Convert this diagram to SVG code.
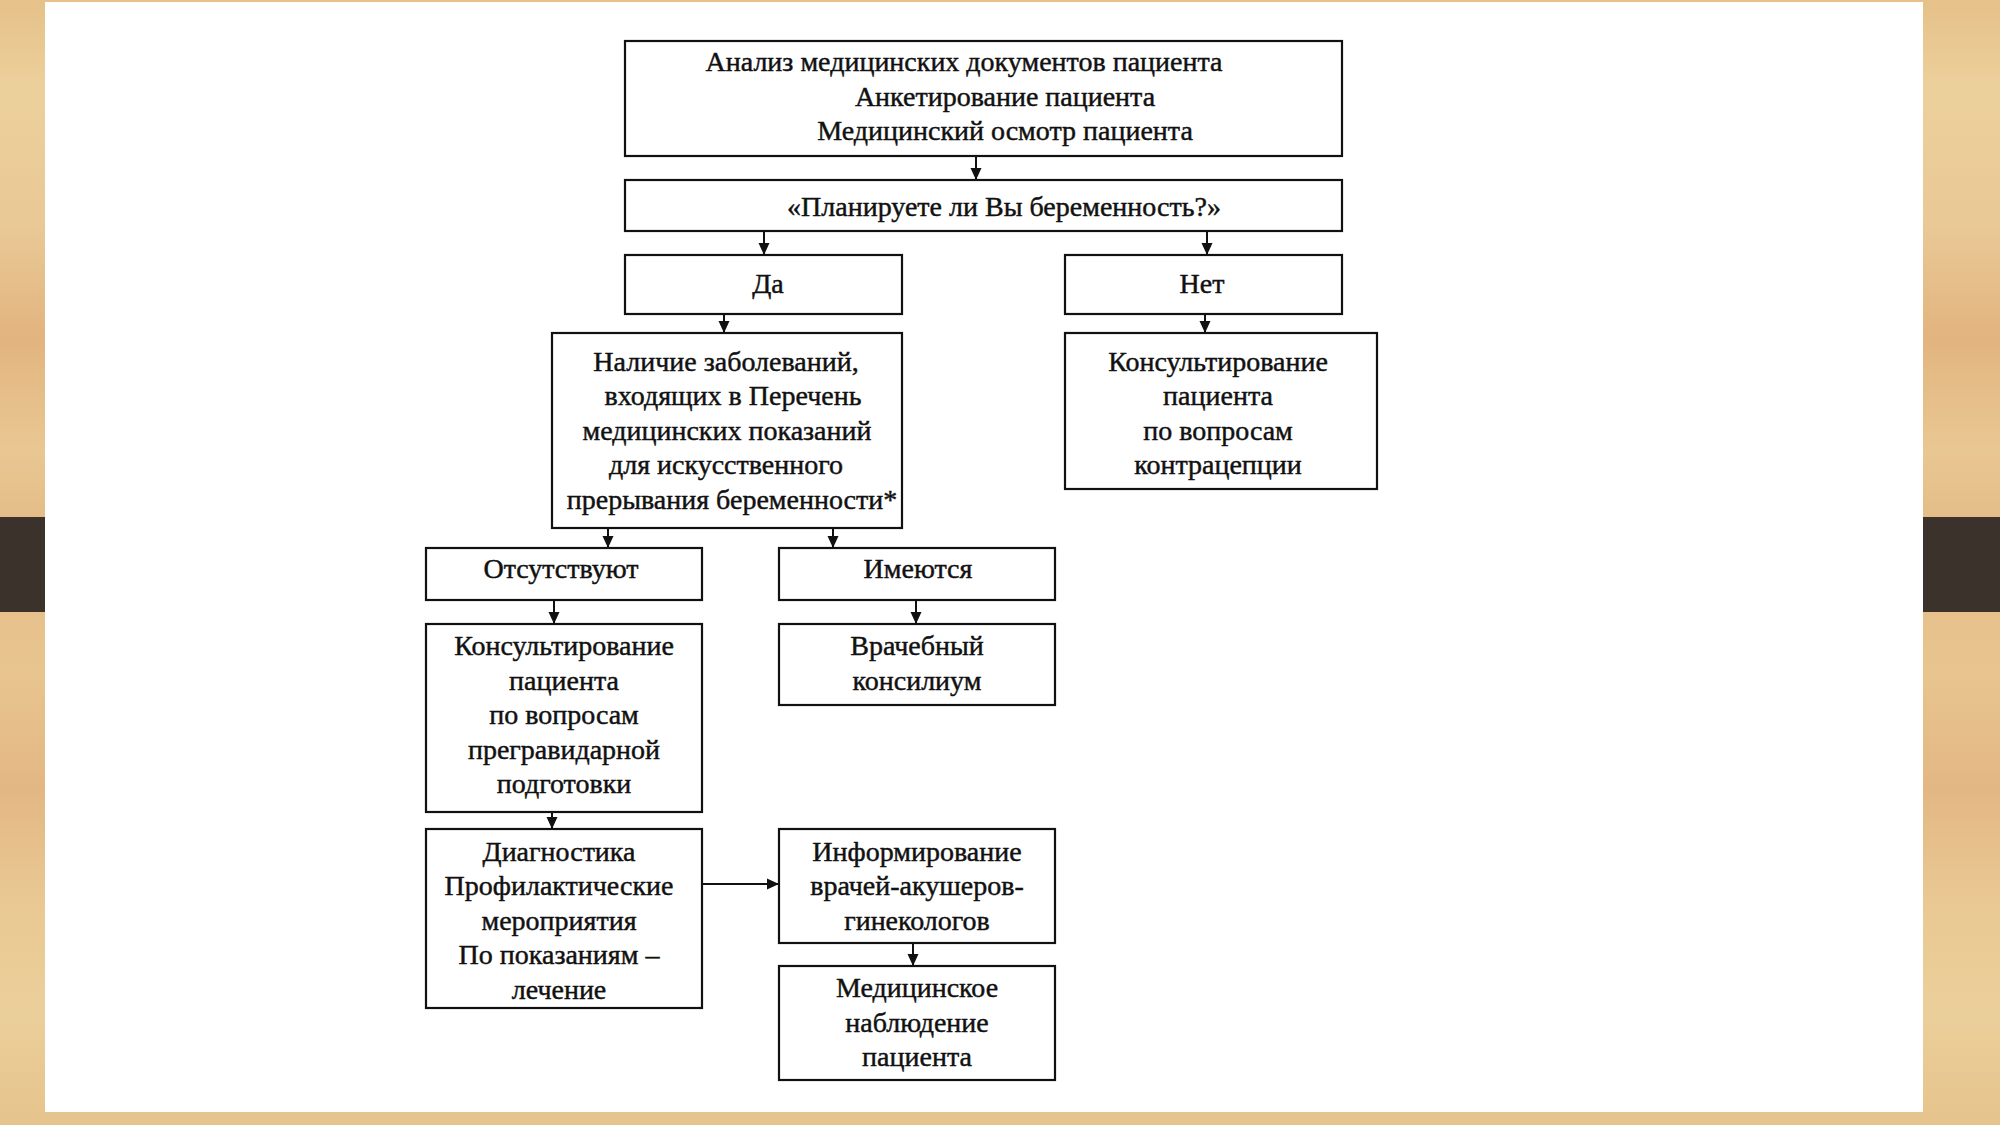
<svg xmlns="http://www.w3.org/2000/svg" width="2000" height="1125" viewBox="0 0 2000 1125">
  <defs>
    <linearGradient id="wood" x1="0" y1="0" x2="0" y2="1">
      <stop offset="0" stop-color="#e6c189"/>
      <stop offset="0.08" stop-color="#ecd09c"/>
      <stop offset="0.2" stop-color="#e9c996"/>
      <stop offset="0.3" stop-color="#e2b47f"/>
      <stop offset="0.4" stop-color="#e9c792"/>
      <stop offset="0.46" stop-color="#e4bd88"/>
      <stop offset="0.6" stop-color="#e8c48e"/>
      <stop offset="0.7" stop-color="#e3b783"/>
      <stop offset="0.8" stop-color="#e9c893"/>
      <stop offset="0.9" stop-color="#ebcf9a"/>
      <stop offset="1" stop-color="#e6c38c"/>
    </linearGradient>
    <marker id="arr" viewBox="0 0 12 12" refX="12" refY="6" markerWidth="12" markerHeight="12" markerUnits="userSpaceOnUse" orient="auto">
      <path d="M0,0.5 L12,6 L0,11.5 z" fill="#111"/>
    </marker>
    <style>
      .box{fill:#fff;stroke:#111;stroke-width:2.2}
      .t{font-family:"Liberation Serif","Times New Roman",serif;font-size:28px;fill:#111;text-anchor:middle;stroke:#111;stroke-width:0.45}
      .c{stroke:#111;stroke-width:2;fill:none;marker-end:url(#arr)}
    </style>
  </defs>

  <rect x="0" y="0" width="2000" height="1125" fill="url(#wood)"/>
  <rect x="0" y="517" width="45" height="95" fill="#3b322b"/>
  <rect x="1923" y="517" width="77" height="95" fill="#3b322b"/>
  <rect x="45" y="2" width="1878" height="1110" fill="#ffffff"/>

  <g id="connectors">
    <line class="c" x1="976" y1="156" x2="976" y2="180"/>
    <line class="c" x1="764" y1="231" x2="764" y2="255"/>
    <line class="c" x1="1207" y1="231" x2="1207" y2="255"/>
    <line class="c" x1="724" y1="314" x2="724" y2="333"/>
    <line class="c" x1="1205" y1="314" x2="1205" y2="333"/>
    <line class="c" x1="608" y1="528" x2="608" y2="548"/>
    <line class="c" x1="833" y1="528" x2="833" y2="548"/>
    <line class="c" x1="554" y1="600" x2="554" y2="624"/>
    <line class="c" x1="916" y1="600" x2="916" y2="624"/>
    <line class="c" x1="552" y1="812" x2="552" y2="829"/>
    <line class="c" x1="702" y1="884" x2="779" y2="884"/>
    <line class="c" x1="913" y1="943" x2="913" y2="966"/>
  </g>

  <g id="n-analysis">
    <rect class="box" x="625" y="41" width="717" height="115"/>
    <text class="t" x="964" y="71">Анализ медицинских документов пациента</text>
    <text class="t" x="1005" y="106">Анкетирование пациента</text>
    <text class="t" x="1005" y="140">Медицинский осмотр пациента</text>
  </g>
  <g id="n-question">
    <rect class="box" x="625" y="180" width="717" height="51"/>
    <text class="t" x="1004" y="216">«Планируете ли Вы беременность?»</text>
  </g>
  <g id="n-yes">
    <rect class="box" x="625" y="255" width="277" height="59"/>
    <text class="t" x="768" y="293">Да</text>
  </g>
  <g id="n-no">
    <rect class="box" x="1065" y="255" width="277" height="59"/>
    <text class="t" x="1202" y="293">Нет</text>
  </g>
  <g id="n-diseases">
    <rect class="box" x="552" y="333" width="350" height="195"/>
    <text class="t" x="726" y="371">Наличие заболеваний,</text>
    <text class="t" x="733" y="405">входящих в Перечень</text>
    <text class="t" x="727" y="440">медицинских показаний</text>
    <text class="t" x="726" y="474">для искусственного</text>
    <text class="t" x="732" y="509">прерывания беременности*</text>
  </g>
  <g id="n-contraception">
    <rect class="box" x="1065" y="333" width="312" height="156"/>
    <text class="t" x="1218" y="371">Консультирование</text>
    <text class="t" x="1218" y="405">пациента</text>
    <text class="t" x="1218" y="440">по вопросам</text>
    <text class="t" x="1218" y="474">контрацепции</text>
  </g>
  <g id="n-absent">
    <rect class="box" x="426" y="548" width="276" height="52"/>
    <text class="t" x="561" y="578">Отсутствуют</text>
  </g>
  <g id="n-present">
    <rect class="box" x="779" y="548" width="276" height="52"/>
    <text class="t" x="918" y="578">Имеются</text>
  </g>
  <g id="n-pregravid">
    <rect class="box" x="426" y="624" width="276" height="188"/>
    <text class="t" x="564" y="655">Консультирование</text>
    <text class="t" x="564" y="690">пациента</text>
    <text class="t" x="564" y="724">по вопросам</text>
    <text class="t" x="564" y="759">прегравидарной</text>
    <text class="t" x="564" y="793">подготовки</text>
  </g>
  <g id="n-council">
    <rect class="box" x="779" y="624" width="276" height="81"/>
    <text class="t" x="917" y="655">Врачебный</text>
    <text class="t" x="917" y="690">консилиум</text>
  </g>
  <g id="n-diagnostics">
    <rect class="box" x="426" y="829" width="276" height="179"/>
    <text class="t" x="559" y="861">Диагностика</text>
    <text class="t" x="559" y="895">Профилактические</text>
    <text class="t" x="559" y="930">мероприятия</text>
    <text class="t" x="559" y="964">По показаниям –</text>
    <text class="t" x="559" y="999">лечение</text>
  </g>
  <g id="n-inform">
    <rect class="box" x="779" y="829" width="276" height="114"/>
    <text class="t" x="917" y="861">Информирование</text>
    <text class="t" x="917" y="895">врачей-акушеров-</text>
    <text class="t" x="917" y="930">гинекологов</text>
  </g>
  <g id="n-observation">
    <rect class="box" x="779" y="966" width="276" height="114"/>
    <text class="t" x="917" y="997">Медицинское</text>
    <text class="t" x="917" y="1032">наблюдение</text>
    <text class="t" x="917" y="1066">пациента</text>
  </g>
</svg>
